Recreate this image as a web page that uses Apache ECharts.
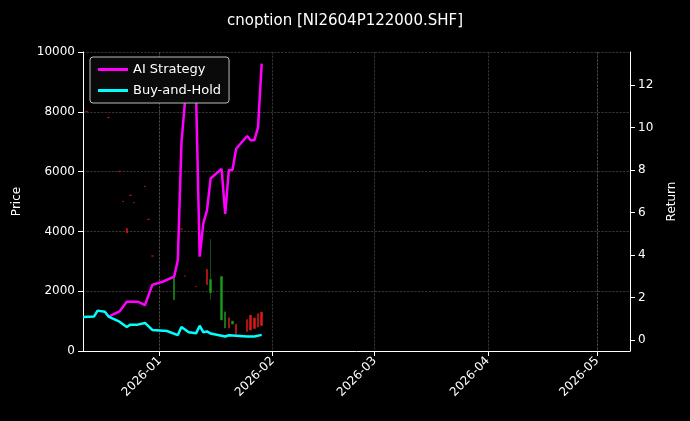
<!DOCTYPE html>
<html>
<head>
<meta charset="utf-8">
<script src="https://cdn.jsdelivr.net/npm/echarts@6/dist/echarts.min.js"></script>
<style>html,body{margin:0;background:#000}#main{width:690px;height:421px}</style>
</head>
<body>
<div id="main"></div>
<script>
// candles: date, open, close, low, high
var candleDates = ['2025-12-12','2025-12-18','2025-12-21','2025-12-22','2025-12-23','2025-12-24','2025-12-25','2025-12-28','2025-12-29','2025-12-30',
    '2026-01-05','2026-01-07','2026-01-08','2026-01-11','2026-01-14','2026-01-15','2026-01-18','2026-01-19','2026-01-20','2026-01-21',
    '2026-01-22','2026-01-25','2026-01-26','2026-01-27','2026-01-28','2026-01-29'];
var candleOpen  = [8000,7800,6000,5000,3950,5200,4950,5500,4400,3170, 2460,4070,2500,2150,2220,2390,2490,1310,770,1000, 560,650,700,750,800,850];
var candleClose = [8015,7815,6015,5015,4100,5215,4965,5515,4415,3185, 1720,4085,2515,2165,2730,1950,1040,770,1110,900, 900,1050,1200,1100,1250,1300];
var candleLow   = [8000,7800,6000,5000,3950,5200,4950,5500,4400,3170, 1700,4070,2500,2150,2200,1720,1040,770,770,900, 560,650,700,750,800,850];
var candleHigh  = [8015,7815,6015,5015,4100,5215,4965,5515,4415,3185, 2480,4085,2515,2165,2730,3740,2500,1310,1110,1000, 900,1050,1200,1100,1250,1300];

var holdDates = ['2025-12-11','2025-12-14','2025-12-15','2025-12-17','2025-12-18','2025-12-21','2025-12-23','2025-12-24','2025-12-26','2025-12-28',
    '2025-12-30','2026-01-03','2026-01-06','2026-01-07','2026-01-09','2026-01-11','2026-01-12','2026-01-13','2026-01-14','2026-01-15',
    '2026-01-19','2026-01-20','2026-01-22','2026-01-25','2026-01-27','2026-01-29'];
var holdReturn = [1.08,1.1,1.38,1.33,1.1,0.86,0.61,0.72,0.72,0.8, 0.47,0.42,0.23,0.61,0.36,0.31,0.67,0.36,0.4,0.3, 0.16,0.22,0.2,0.16,0.16,0.24];

var aiDates = ['2025-12-18','2025-12-21','2025-12-23','2025-12-26','2025-12-28','2025-12-30','2026-01-02','2026-01-05','2026-01-06','2026-01-07',
    '2026-01-08','2026-01-09','2026-01-11','2026-01-12','2026-01-13','2026-01-14','2026-01-15','2026-01-18','2026-01-19','2026-01-20',
    '2026-01-21','2026-01-22','2026-01-25','2026-01-26','2026-01-27','2026-01-28','2026-01-29'];
var aiReturn = [1.1,1.34,1.8,1.8,1.64,2.59,2.75,2.98,3.75,9.27, 11.3,12.5,11.6,3.92,5.5,6.1,7.6,8.05,5.93,8.0, 8.0,9.0,9.6,9.4,9.4,10.0,13.0];

var monthTicks = ['2026-01-01','2026-02-01','2026-03-01','2026-04-01','2026-05-01'];
var returnTicks = [0, 2, 4, 6, 8, 10, 12];

function zip(d, v) { return d.map(function (x, i) { return [x, v[i]]; }); }

var chart = echarts.init(document.getElementById('main'));
var txt = '#ffffff';
var grid = { show: true, lineStyle: { color: '#555', type: 'dashed', width: 0.6 } };

chart.setOption({
    backgroundColor: '#000',
    animation: false,
    textStyle: { fontFamily: 'DejaVu Sans' },
    title: {
        text: 'cnoption [NI2604P122000.SHF]',
        left: 'center', top: 9,
        textStyle: { color: txt, fontSize: 15, fontWeight: 'normal' }
    },
    legend: {
        orient: 'vertical', left: 90, top: 57,
        padding: [6, 8, 6, 8], itemGap: 8,
        backgroundColor: '#0a0a0a', borderColor: '#bbb', borderWidth: 1, borderRadius: 3,
        itemWidth: 30, itemHeight: 3,
        textStyle: { color: txt, fontSize: 13 },
        data: [{ name: 'AI Strategy', icon: 'rect' }, { name: 'Buy-and-Hold', icon: 'rect' }]
    },
    grid: { left: 83, right: 60, top: 52, bottom: 70 },
    xAxis: {
        type: 'time',
        min: '2025-12-11', max: '2026-05-10',
        axisLine: { lineStyle: { color: txt } },
        axisTick: { customValues: monthTicks.map(function (d) { return +new Date(d); }), lineStyle: { color: txt } },
        axisLabel: {
            customValues: monthTicks.map(function (d) { return +new Date(d); }),
            color: txt, fontSize: 12, rotate: 45, formatter: '{yyyy}-{MM}'
        },
        splitLine: grid
    },
    yAxis: [{
        type: 'value', min: 0, max: 10000, interval: 2000,
        name: 'Price', nameLocation: 'middle', nameGap: 60, nameRotate: 90,
        nameTextStyle: { color: txt, fontSize: 12 },
        axisLine: { show: true, lineStyle: { color: txt } },
        axisTick: { show: true, lineStyle: { color: txt } },
        axisLabel: { color: txt, fontSize: 12, formatter: function (v) { return String(v); } },
        splitLine: grid
    }, {
        type: 'value', min: -0.52, max: 13.55,
        name: 'Return', nameLocation: 'middle', nameGap: 36, nameRotate: 90,
        nameTextStyle: { color: txt, fontSize: 12 },
        axisLine: { show: true, lineStyle: { color: txt } },
        axisTick: { show: true, customValues: returnTicks, lineStyle: { color: txt } },
        axisLabel: { color: txt, fontSize: 12, customValues: returnTicks },
        splitLine: { show: false }
    }],
    series: [{
        type: 'candlestick', yAxisIndex: 0, barMaxWidth: 2,
        itemStyle: { color: '#e01818', color0: '#1a9a1a', borderColor: '#e01818', borderColor0: '#1a9a1a', borderWidth: 0.5 },
        data: candleDates.map(function (d, i) { return [d, candleOpen[i], candleClose[i], candleLow[i], candleHigh[i]]; })
    }, {
        name: 'AI Strategy', type: 'line', yAxisIndex: 1, showSymbol: false,
        color: '#ff00ff', lineStyle: { width: 2.5 },
        data: zip(aiDates, aiReturn)
    }, {
        name: 'Buy-and-Hold', type: 'line', yAxisIndex: 1, showSymbol: false,
        color: '#00ffff', lineStyle: { width: 2.5 },
        data: zip(holdDates, holdReturn)
    }]
});
</script>
</body>
</html>
